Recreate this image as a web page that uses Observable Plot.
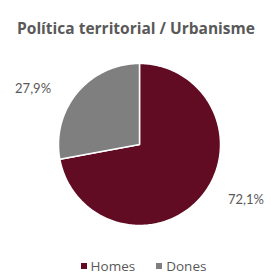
<!DOCTYPE html>
<html>
<head>
<meta charset="utf-8">
<script src="https://cdn.jsdelivr.net/npm/d3@7"></script>
<script src="https://cdn.jsdelivr.net/npm/@observablehq/plot@0.6"></script>
<style>
  html, body { margin: 0; padding: 0; background: #fff; }
  #wrap { position: relative; width: 271px; height: 275px; overflow: hidden; }
  #legend { position: absolute; left: 0; top: 259px; height: 14px; line-height: 14px; width: 271px; display: flex; justify-content: center; gap: 21px;
    font-family: "Open Sans", sans-serif; font-size: 13.5px; color: #595959; padding-left: 16px; box-sizing: border-box; }
  #legend .item { display: flex; align-items: center; gap: 4px; }
  #legend .sw { width: 6px; height: 6px; display: inline-block; }
</style>
</head>
<body>
<div id="wrap"><div id="chart"></div><div id="legend"></div></div>
<script>
const title = "Política territorial / Urbanisme";
const categories = ["Homes", "Dones"];
const values = [72.1, 27.9];
const valueLabels = ["72,1%", "27,9%"];
const colors = ["#620c24", "#7f7f7f"];

// build slice outlines (unit circle) from the values
const total = d3.sum(values);
const slices = [];
const labels = [];
let start = 0;
categories.forEach((c, i) => {
  const a0 = start * 2 * Math.PI / total;
  const a1 = (start + values[i]) * 2 * Math.PI / total;
  const n = Math.max(2, Math.ceil((a1 - a0) / (Math.PI / 180)));
  slices.push({key: c, x: 0, y: 0});
  for (let k = 0; k <= n; k++) {
    const a = a0 + (a1 - a0) * k / n;
    slices.push({key: c, x: Math.sin(a), y: Math.cos(a)});
  }
  slices.push({key: c, x: 0, y: 0});
  const mid = (a0 + a1) / 2;
  labels.push({key: c, text: valueLabels[i], x: 1.71 * Math.sin(mid), y: 1.07 * Math.cos(mid)});
  start += values[i];
});

const plot = Plot.plot({
  width: 271,
  height: 275,
  margin: 0,
  x: {domain: [-1, 1], range: [58, 220], axis: null},
  y: {domain: [-1, 1], range: [225, 63], axis: null},
  color: {domain: categories, range: colors},
  style: {fontFamily: "Lato, sans-serif", background: "#fff"},
  marks: [
    Plot.line(slices, {x: "x", y: "y", z: "key", fill: "key", stroke: "white", strokeWidth: 1.5, curve: "linear"}),
    Plot.text(labels, {x: "x", y: "y", text: "text", fill: "#595959", fontSize: 13}),
    Plot.text([title], {frameAnchor: "top", dy: 22, text: d => d, fill: "#595959", fontSize: 15.5, fontWeight: "bold", fontFamily: "Open Sans, sans-serif"})
  ]
});
document.getElementById("chart").appendChild(plot);

const legend = document.getElementById("legend");
categories.forEach((c, i) => {
  const item = document.createElement("span");
  item.className = "item";
  const sw = document.createElement("span");
  sw.className = "sw";
  sw.style.background = colors[i];
  item.appendChild(sw);
  item.appendChild(document.createTextNode(c));
  legend.appendChild(item);
});
</script>
</body>
</html>
